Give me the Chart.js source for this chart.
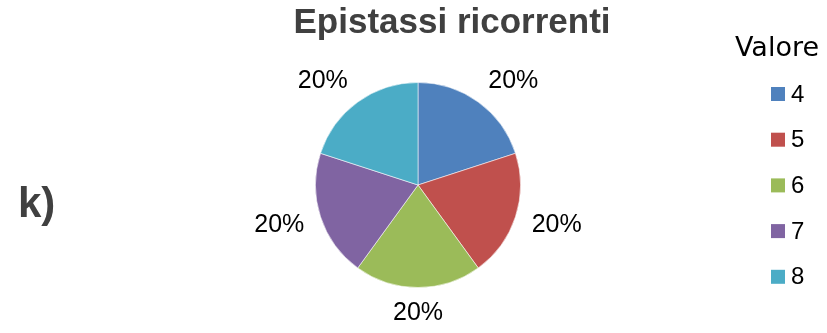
<!DOCTYPE html>
<html>
<head>
<meta charset="utf-8">
<script src="https://cdn.jsdelivr.net/npm/chart.js@4/dist/chart.umd.min.js"></script>
<style>
  html, body { margin: 0; padding: 0; background: #ffffff; }
  #wrap { position: relative; width: 827px; height: 333px; }
</style>
</head>
<body>
<div id="wrap"><canvas id="c" width="827" height="333"></canvas></div>
<script>
// Chart content
const chartTitle = 'Epistassi ricorrenti';
const panelLabel = 'k)';
const legendTitle = 'Valore';
const categories = ['4', '5', '6', '7', '8'];
const counts = [1, 1, 1, 1, 1];
const sliceColors = ['#4F81BD', '#C0504D', '#9BBB59', '#8064A2', '#4BACC6'];

const SANS = '"Liberation Sans", Arial, sans-serif';

// Percent labels just outside each slice
const outsideLabels = {
  id: 'outsideLabels',
  afterDatasetsDraw(chart) {
    const ctx = chart.ctx;
    const meta = chart.getDatasetMeta(0);
    const values = chart.data.datasets[0].data;
    const total = values.reduce((a, b) => a + b, 0);
    ctx.save();
    ctx.font = '25px ' + SANS;
    ctx.fillStyle = '#000000';
    ctx.textAlign = 'center';
    ctx.textBaseline = 'middle';
    meta.data.forEach((arc, i) => {
      const p = arc.getProps(['x', 'y', 'startAngle', 'endAngle', 'outerRadius'], true);
      const mid = (p.startAngle + p.endAngle) / 2;
      const ux = Math.cos(mid), uy = Math.sin(mid);
      const text = Math.round(values[i] / total * 100) + '%';
      const w = ctx.measureText(text).width;
      const sx = Math.abs(ux) < 0.05 ? 0 : Math.sign(ux);
      const x = p.x + (p.outerRadius + 17) * ux + sx * w / 2;
      const y = p.y + (p.outerRadius + 26) * uy;
      ctx.fillText(text, x, y);
    });
    ctx.restore();
  }
};

// Title, panel letter and legend
const decorations = {
  id: 'decorations',
  afterDraw(chart) {
    const ctx = chart.ctx;
    ctx.save();
    ctx.fillStyle = '#404040';
    ctx.textBaseline = 'alphabetic';
    ctx.textAlign = 'center';
    ctx.font = 'bold 35px ' + SANS;
    ctx.fillText(chartTitle, 452, 33);

    ctx.textAlign = 'left';
    ctx.font = 'bold 42px ' + SANS;
    ctx.fillText(panelLabel, 18, 217);

    ctx.fillStyle = '#000000';
    ctx.font = '27px "DejaVu Sans", sans-serif';
    ctx.fillText(legendTitle, 735, 56);

    ctx.font = '24px ' + SANS;
    ctx.textBaseline = 'middle';
    const bg = chart.data.datasets[0].backgroundColor;
    chart.data.labels.forEach((lab, i) => {
      const cy = 94 + i * 45.7;
      ctx.fillStyle = bg[i];
      ctx.fillRect(771, cy - 7, 14, 14);
      ctx.fillStyle = '#000000';
      ctx.fillText(lab, 791, cy + 1);
    });
    ctx.restore();
  }
};

new Chart(document.getElementById('c'), {
  type: 'pie',
  data: {
    labels: categories,
    datasets: [{
      data: counts,
      backgroundColor: sliceColors,
      borderColor: 'rgba(255,255,255,0.55)',
      borderWidth: 1
    }]
  },
  options: {
    responsive: false,
    animation: false,
    events: [],
    layout: { padding: { left: 315, right: 306, top: 82, bottom: 45 } },
    plugins: {
      legend: { display: false },
      title: { display: false },
      tooltip: { enabled: false }
    }
  },
  plugins: [outsideLabels, decorations]
});
</script>
</body>
</html>
